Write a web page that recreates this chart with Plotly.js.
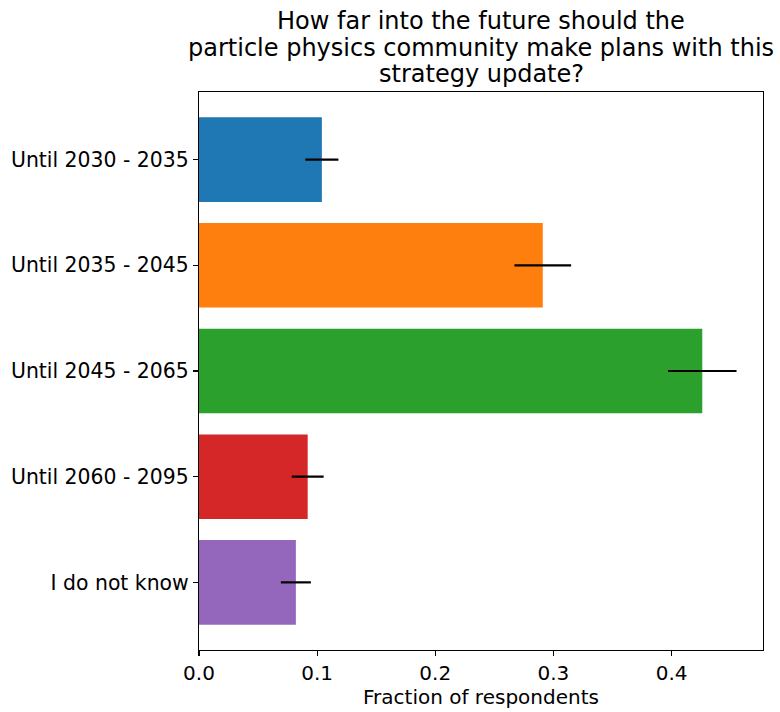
<!DOCTYPE html>
<html>
<head>
<meta charset="utf-8">
<script src="https://cdn.plot.ly/plotly-3.0.1.min.js"></script>
<style>html,body{margin:0;padding:0;background:#fff;}</style>
</head>
<body>
<div id="chart" style="width:780px;height:712px;"></div>
<script>
const categories = ["Until 2030 - 2035", "Until 2035 - 2045", "Until 2045 - 2065", "Until 2060 - 2095", "I do not know"];
const fractions = [0.104, 0.291, 0.426, 0.092, 0.082];
const errors = [0.014, 0.024, 0.029, 0.0135, 0.0127];
const colors = ["#1f77b4", "#ff7f0e", "#2ca02c", "#d62728", "#9467bd"];
const xTicks = [0, 0.1, 0.2, 0.3, 0.4];
const xTickLabels = ["0.0", "0.1", "0.2", "0.3", "0.4"];
const titleLines = ["How far into the future should the", "particle physics community make plans with this", "strategy update?"];

const font = "DejaVu Sans";
const H = 712, T = 92, B = 62;
const plotH = H - T - B;
const titleCenters = [21, 47.5, 74];

const trace = {
  type: "bar",
  orientation: "h",
  x: fractions,
  y: categories,
  width: 0.8,
  marker: {color: colors, line: {width: 0}},
  error_x: {type: "data", array: errors, visible: true, color: "#000", thickness: 2.2, width: 0},
  hoverinfo: "none"
};
const annotations = titleLines.map((t, i) => ({
  text: t, showarrow: false,
  xref: "paper", x: 0.5, xanchor: "center",
  yref: "paper", y: (H - B - titleCenters[i]) / plotH, yanchor: "middle",
  font: {family: font, size: 24, color: "#000"}
}));
const layout = {
  width: 780, height: H,
  margin: {l: 199, r: 17, t: T, b: B},
  paper_bgcolor: "#fff", plot_bgcolor: "#fff",
  showlegend: false,
  font: {family: font, color: "#000", size: 20},
  annotations: annotations,
  xaxis: {
    range: [0, 0.4774],
    tickvals: xTicks, ticktext: xTickLabels,
    ticks: "outside", ticklen: 5, tickwidth: 1.2, tickcolor: "#000",
    showgrid: false, zeroline: false,
    showline: true, linecolor: "#000", linewidth: 1.2, mirror: true,
    tickfont: {family: font, size: 20, color: "#000"},
    title: {text: "Fraction of respondents", font: {family: font, size: 20, color: "#000"}, standoff: 2}
  },
  yaxis: {
    type: "category",
    range: [4.64, -0.64],
    ticks: "outside", ticklen: 5, tickwidth: 1.2, tickcolor: "#000",
    showgrid: false, zeroline: false,
    showline: true, linecolor: "#000", linewidth: 1.2, mirror: true,
    tickfont: {family: font, size: 20.4, color: "#000"}
  }
};
Plotly.newPlot("chart", [trace], layout, {displayModeBar: false, staticPlot: true});
</script>
</body>
</html>
